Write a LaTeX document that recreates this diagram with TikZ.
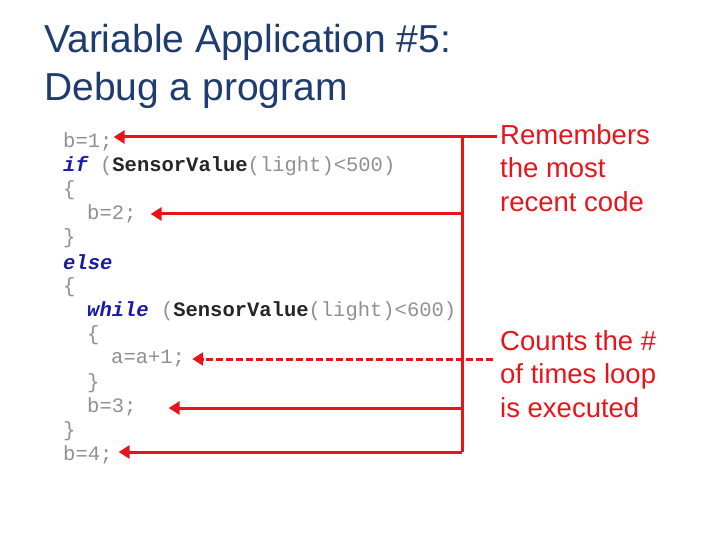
\documentclass[tikz,border=0pt]{standalone}
\usepackage{fontspec}
\setmainfont{Liberation Sans}
\newfontfamily\codefont{Liberation Mono}
\usetikzlibrary{arrows.meta}
\definecolor{titleblue}{HTML}{1F3C6E}
\definecolor{codegray}{HTML}{909090}
\definecolor{kwblue}{HTML}{1A1AA6}
\definecolor{arrred}{HTML}{E8141C}
\tikzset{
  code/.style={anchor=west,inner sep=0pt,font=\codefont\fontsize{20.5}{20.5}\selectfont,text=codegray},
  note/.style={anchor=north west,inner sep=0pt,align=left,font=\fontsize{27.5}{33.5}\selectfont,text=arrred},
  title/.style={anchor=west,inner sep=0pt,font=\fontsize{39}{39}\selectfont,text=titleblue},
  redline/.style={draw=arrred,line width=3pt},
  redarrow/.style={redline,-{Triangle[length=11pt,width=13pt]}},
}
\newcommand{\kw}[1]{\textcolor{kwblue}{\bfseries\itshape #1}}
\newcommand{\fn}[1]{\textcolor{black!85}{\bfseries #1}}
\begin{document}
\begin{tikzpicture}[x=1pt,y=-1pt]
\useasboundingbox (0,0) rectangle (720,540);
\node[title] (t1) at (44,42) {Variable Application \#5:};
\node[title] (t2) at (44,90) {Debug a program};
\node[code] (c1) at (63,142) {b=1;};
\node[code] (c2) at (63,166) {\kw{if} (\fn{SensorValue}(light)<500)};
\node[code] (c3) at (63,190) {\{};
\node[code] (c4) at (87,214) {b=2;};
\node[code] (c5) at (63,238) {\}};
\node[code] (c6) at (63,262) {\kw{else}};
\node[code] (c7) at (63,287) {\{};
\node[code] (c8) at (87,311) {\kw{while} (\fn{SensorValue}(light)<600)};
\node[code] (c9) at (87,335) {\{};
\node[code] (c10) at (111,359) {a=a+1;};
\node[code] (c11) at (87,383) {\}};
\node[code] (c12) at (87,407) {b=3;};
\node[code] (c13) at (63,431) {\}};
\node[code] (c14) at (63,455) {b=4;};
\node[note] (n1) at (500,124) {Remembers\\the most\\recent code};
\node[note] (n2) at (500,330) {Counts the \#\\of times loop\\is executed};
\coordinate (top) at (497,137);
\coordinate (jt) at (462,137);
\coordinate (jb) at (462,452);
\coordinate (j2) at (462,214);
\coordinate (j3) at (462,408);
\coordinate (d0) at (493,359);
\draw[redline] (top) -- (jt) -- (jb);
\draw[redarrow] (top) -- ([xshift=1pt]c1.east |- top);
\draw[redarrow] (j2) -- ([xshift=14pt]c4.east |- j2);
\draw[redarrow] (j3) -- ([xshift=32pt]c12.east |- j3);
\draw[redarrow] (jb) -- ([xshift=6pt]c14.east |- jb);
\draw[redarrow,dashed,dash pattern=on 7pt off 3pt] (d0) -- ([xshift=7pt]c10.east |- d0);
\end{tikzpicture}
\end{document}
